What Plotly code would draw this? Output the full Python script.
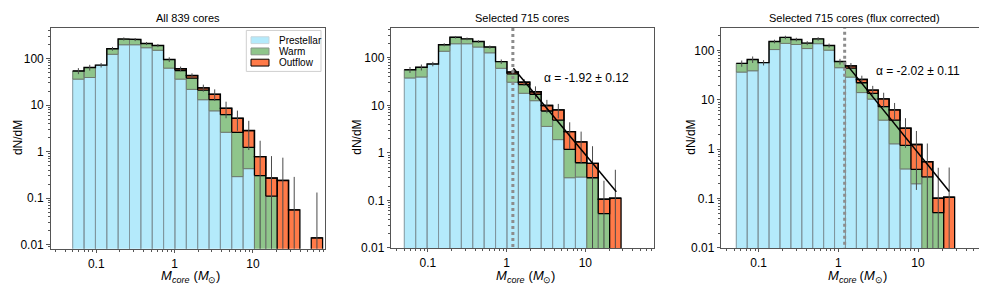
import math
import plotly.graph_objects as go

# ---------------- data ----------------
# bin edges (solar masses)
edges_all = [0.0500, 0.0698, 0.0975, 0.1362, 0.1901, 0.2655, 0.3707, 0.5177, 0.7229,
             1.0095, 1.4096, 1.9684, 2.7487, 3.8383, 5.3598, 7.4845, 10.451, 14.594,
             20.380, 28.459, 39.740, 55.493, 77.49]
edges_sel = [0.0500, 0.0698, 0.0975, 0.1362, 0.1901, 0.2655, 0.3707, 0.5177, 0.7229,
             1.0095, 1.4096, 1.9684, 2.7487, 3.8383, 5.3598, 7.4845, 10.451, 14.594,
             20.380, 28.459]
edges_corr = [0.05236, 0.07178, 0.09841, 0.13491, 0.18495, 0.25355, 0.34759, 0.47651,
              0.65326, 0.89556, 1.2277, 1.6831, 2.3074, 3.1632, 4.3365, 5.9449, 8.1499,
              11.173, 15.317, 20.998, 28.786]

# dN/dM per class (All 839 cores)
pre_all = [36, 39, 72, 123, 197, 197, 170, 150, 62, 36, 21.7, 13, 7.5, 2.6, 0.29, 0.43,
           0, 0, 0, 0, 0, 0]
warm_all = [18, 25, 0, 39, 66, 58, 40, 40, 33, 19, 16.3, 8, 5.5, 3.6, 2.3, 0.8, 0.305,
            0.11, 0, 0, 0, 0]
out_all = [0, 0, 0, 0, 0, 0, 0, 0, 0, 5, 5, 2.4, 4, 2.3, 2.6, 1.6, 0.475, 0.16, 0.24,
           0.056, 0, 0.014]
err_all = [8, 9, 8, 15, 20, 19, 16, 15, 11, 7, 5, 4, 4.7, 3.3, 2.4, 1.75, 0.93, 0.53,
           0.5, 0.23, 0, 0.118]

# Selected 715 cores
pre_sel = [37.6, 39.4, 74, 137, 197, 197, 168, 127, 60, 30.6, 17.9, 12.5, 3.6, 1.9,
           0.30, 0.31, 0, 0, 0]
warm_sel = [18.4, 23.6, 0, 51, 73, 53, 51, 41, 23, 15, 9.5, 4.6, 4.0, 3.0, 0.88, 0.31,
            0.30, 0.053, 0]
out_sel = [0, 0, 0, 0, 0, 0, 0, 0, 0, 4.5, 3.2, 2.2, 2.3, 3.1, 1.62, 1.08, 0.3, 0.053,
           0.111]
err_sel = [8, 9, 8, 14, 17, 16, 15, 13, 9, 6, 5, 5.7, 3.1, 2.7, 1.6, 1.1, 0.78, 0.154,
           0.33]

# Selected 715 cores (flux corrected)
pre_corr = [36.7, 39, 57, 105, 140, 133, 110, 138, 102, 45, 29, 14.1, 10.4, 3.9, 1.29,
            0.40, 0.20, 0, 0, 0]
warm_corr = [18.3, 27, 0, 48, 45, 35, 32, 35, 25, 15, 15, 8.2, 3.2, 3.4, 2.6, 0.8, 0.19,
             0.275, 0.052, 0]
out_corr = [0, 0, 0, 0, 0, 0, 0, 0, 0, 0, 5, 3.7, 2.2, 3.2, 2.4, 1.47, 0.86, 0.285,
            0.05, 0.107]
err_corr = [8, 10, 7, 13, 15, 14, 13, 14, 12, 8, 7, 5, 3.5, 3.5, 2.4, 1.6, 1.1, 0.75,
            0.32, 0.32]

# power-law fits (end points) and labels
fit_sel_x = [1.22, 24.8]
fit_sel_y = [60, 0.152]
fit_corr_x = [1.31, 24.7]
fit_corr_y = [49, 0.139]
alpha_sel = "α = -1.92 ± 0.12"
alpha_corr = "α = -2.02 ± 0.11"
alpha_sel_pos = (2.85, 37.6)
alpha_corr_pos = (2.83, 38)
m_complete = 1.2

titles = ["All 839 cores", "Selected 715 cores", "Selected 715 cores (flux corrected)"]
legend_names = ["Prestellar", "Warm", "Outflow"]
ylabel = "dN/dM"
# x label pieces: (text, font size, is_subscript, approx width px)
xlabel_parts = [("<i>M</i>", 13, False, 10.8), ("<i>core</i>", 9, True, 17.5),
                (" (<i>M</i>", 13, False, 18.7), ("⊙", 9, True, 7.6), (")", 13, False, 4.3)]

# ---------------- style ----------------
FONT = "Liberation Sans, Arial, Helvetica, sans-serif"
C_PRE = "#b4eafb"
C_PRE_E = "#7f969e"
C_WARM = "#8fc58b"
C_WARM_E = "#6e7a6e"
C_OUT = "#ff7a48"
AX = "#555555"

fig = go.Figure()


def bars(edges, bottoms, tops):
    xs, ys = [], []
    for i in range(len(tops)):
        if tops[i] <= bottoms[i]:
            continue
        b = bottoms[i] if bottoms[i] > 0 else 1e-6
        xs += [edges[i], edges[i], edges[i + 1], edges[i + 1], edges[i], None]
        ys += [b, tops[i], tops[i], b, b, None]
    return xs, ys


def step(edges, tops):
    xs, ys = [], []
    for i, t in enumerate(tops):
        if t <= 0:
            if xs and xs[-1] is not None:
                xs.append(None)
                ys.append(None)
            continue
        xs += [edges[i], edges[i + 1]]
        ys += [t, t]
    return xs, ys


panels = [
    (edges_all, pre_all, warm_all, out_all, err_all, None, None),
    (edges_sel, pre_sel, warm_sel, out_sel, err_sel, fit_sel_x, fit_sel_y),
    (edges_corr, pre_corr, warm_corr, out_corr, err_corr, fit_corr_x, fit_corr_y),
]

for p, (edges, pre, warm, out, err, fx, fy) in enumerate(panels):
    xa = "x" if p == 0 else f"x{p+1}"
    ya = "y" if p == 0 else f"y{p+1}"
    n = len(pre)
    zero = [0] * n
    g_top = [pre[i] + warm[i] for i in range(n)]
    tot = [g_top[i] + out[i] for i in range(n)]
    bx, by = bars(edges, zero, pre)
    fig.add_trace(go.Scatter(x=bx, y=by, fill="toself", fillcolor=C_PRE, mode="lines",
                             line=dict(color=C_PRE_E, width=1), name=legend_names[0],
                             showlegend=False, xaxis=xa, yaxis=ya, hoverinfo="skip"))
    bx, by = bars(edges, pre, g_top)
    fig.add_trace(go.Scatter(x=bx, y=by, fill="toself", fillcolor=C_WARM, mode="lines",
                             line=dict(color=C_WARM_E, width=1), name=legend_names[1],
                             showlegend=False, xaxis=xa, yaxis=ya, hoverinfo="skip"))
    bx, by = bars(edges, g_top, tot)
    fig.add_trace(go.Scatter(x=bx, y=by, fill="toself", fillcolor=C_OUT, mode="lines",
                             line=dict(color="black", width=1.3), name=legend_names[2],
                             showlegend=False, xaxis=xa, yaxis=ya, hoverinfo="skip"))
    sx, sy = step(edges, tot)
    fig.add_trace(go.Scatter(x=sx, y=sy, mode="lines", line=dict(color="black", width=1.4),
                             showlegend=False, xaxis=xa, yaxis=ya, hoverinfo="skip"))
    centers = [(edges[i] * edges[i + 1]) ** 0.5 for i in range(n)]
    yv = [t if t > 0 else None for t in tot]
    fig.add_trace(go.Scatter(x=centers, y=yv, mode="markers",
                             marker=dict(size=1, color="rgba(0,0,0,0)"),
                             error_y=dict(type="data", array=err, symmetric=True,
                                          color="#4a4a4a", thickness=1, width=0),
                             showlegend=False, xaxis=xa, yaxis=ya, hoverinfo="skip"))
    if fx is not None:
        fig.add_trace(go.Scatter(x=[m_complete, m_complete], y=[1e-4, 1e4], mode="lines",
                                 line=dict(color="#8c8c8c", width=3, dash="3px,3px"),
                                 showlegend=False, xaxis=xa, yaxis=ya, hoverinfo="skip"))
        fig.add_trace(go.Scatter(x=fx, y=fy, mode="lines",
                                 line=dict(color="black", width=1.5),
                                 showlegend=False, xaxis=xa, yaxis=ya, hoverinfo="skip"))

W, H = 987, 286
xdom = [(42.7 / W, 316.7 / W), (383.3 / W, 646 / W), (713.3 / W, 980 / W)]
ydom = [(1 - 246.7 / H, 1 - 20 / H), (1 - 246 / H, 1 - 20 / H), (1 - 246 / H, 1 - 20 / H)]
xr = [(-1.582, 1.916), (-1.466, 1.873), (-1.469, 1.878)]
yr = [(-2.085, 2.665), (-2.0, 2.636), (-2.0, 2.468)]

minor_y = [m * 10 ** e for e in range(-3, 3) for m in range(2, 10)]
minor_x = [m * 10 ** e for e in range(-2, 2) for m in range(2, 10)]

layout = dict(
    width=W, height=H, margin=dict(l=0, r=0, t=0, b=0),
    plot_bgcolor="white", paper_bgcolor="white",
    font=dict(family=FONT, size=12, color="black"),
    showlegend=False,
)
for p in range(3):
    sfx = "" if p == 0 else str(p + 1)
    layout["xaxis" + sfx] = dict(
        type="log", domain=list(xdom[p]), range=list(xr[p]), anchor="y" + sfx,
        tickmode="array", tickvals=[0.1, 1, 10], ticktext=["0.1", "1", "10"],
        ticks="outside", ticklen=3.5, tickcolor=AX, showline=True, mirror=True,
        linecolor=AX, linewidth=1, showgrid=False, zeroline=False,
        tickfont=dict(size=12),
        minor=dict(tickmode="array", tickvals=minor_x, ticks="outside", ticklen=2,
                   tickcolor=AX, showgrid=False),
    )
    layout["yaxis" + sfx] = dict(
        type="log", domain=list(ydom[p]), range=list(yr[p]), anchor="x" + sfx,
        tickmode="array", tickvals=[0.01, 0.1, 1, 10, 100],
        ticktext=["0.01", "0.1", "1", "10", "100"],
        ticks="outside", ticklen=3.5, tickcolor=AX, showline=True, mirror=True,
        linecolor=AX, linewidth=1, showgrid=False, zeroline=False,
        tickfont=dict(size=12),
        minor=dict(tickmode="array", tickvals=minor_y, ticks="outside", ticklen=2,
                   tickcolor=AX, showgrid=False),
    )
fig.update_layout(**layout)

ann = []
total_w = sum(pt[3] for pt in xlabel_parts)
for p in range(3):
    cxp = (xdom[p][0] + xdom[p][1]) / 2 * W
    ann.append(dict(text=titles[p], x=cxp / W, y=1 - 10 / H, xref="paper", yref="paper",
                    showarrow=False, font=dict(size=11), xanchor="center", yanchor="middle"))
    xpos = cxp + 2 - total_w / 2
    for txt, fs, sub, wpx in xlabel_parts:
        yc = 278.5 if sub else 274.5
        ann.append(dict(text=txt, x=xpos / W, y=1 - yc / H, xref="paper", yref="paper",
                        showarrow=False, font=dict(size=fs), xanchor="left",
                        yanchor="middle", borderpad=0))
        xpos += wpx
ylab_x = [10, 349, 683]
for p in range(3):
    cy = (ydom[p][0] + ydom[p][1]) / 2
    ann.append(dict(text=ylabel, x=ylab_x[p] / W, y=cy, xref="paper", yref="paper",
                    showarrow=False, textangle=-90, font=dict(size=12),
                    xanchor="center", yanchor="middle"))
ann.append(dict(text=alpha_sel, x=math.log10(alpha_sel_pos[0]),
                y=math.log10(alpha_sel_pos[1]), xref="x2", yref="y2", showarrow=False,
                xanchor="left", yanchor="middle", font=dict(size=12)))
ann.append(dict(text=alpha_corr, x=math.log10(alpha_corr_pos[0]),
                y=math.log10(alpha_corr_pos[1]), xref="x3", yref="y3", showarrow=False,
                xanchor="left", yanchor="middle", font=dict(size=12)))

# ---- legend (drawn manually to match compact matplotlib legend) ----
shapes = []
shapes.append(dict(type="rect", xref="paper", yref="paper",
                   x0=238.3 / W, x1=313 / W, y0=1 - 65 / H, y1=1 - 23 / H,
                   line=dict(color="#cfcfcf", width=1), fillcolor="white", layer="above"))
leg_rows = [33, 44.5, 56]
leg_fill = [C_PRE, C_WARM, C_OUT]
leg_line = ["#c8d6db", "#8a948a", "black"]
for i in range(3):
    yc = leg_rows[i]
    shapes.append(dict(type="rect", xref="paper", yref="paper",
                       x0=243 / W, x1=261 / W, y0=1 - (yc + 3.5) / H, y1=1 - (yc - 3.5) / H,
                       line=dict(color=leg_line[i], width=1), fillcolor=leg_fill[i],
                       layer="above"))
    ann.append(dict(text=legend_names[i], x=269 / W, y=1 - yc / H, xref="paper",
                    yref="paper", showarrow=False, xanchor="left", yanchor="middle",
                    font=dict(size=10)))
fig.update_layout(annotations=ann, shapes=shapes)

fig.write_html("out.html")
